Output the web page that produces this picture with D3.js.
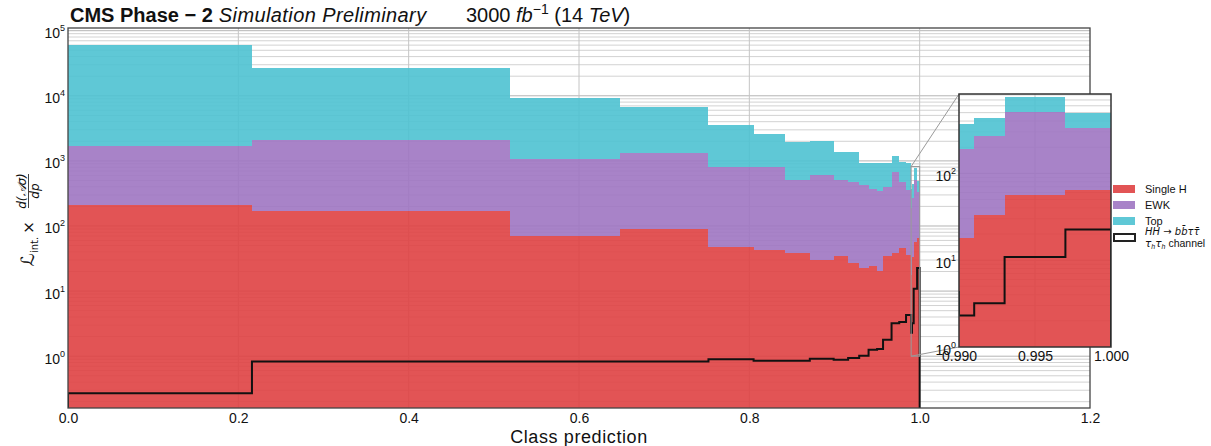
<!DOCTYPE html>
<meta charset="utf-8">
<script src="https://d3js.org/d3.v7.min.js"></script>
<style>
  body { margin: 0; background: #fff; }
  text { font-family: "Liberation Sans", Arial, sans-serif; fill: #111; }
</style>
<div id="chart"></div>
<script>

// histogram bin edges (class prediction)
var binEdges = [0, 0.216, 0.519, 0.648, 0.752, 0.805, 0.842, 0.871, 0.899, 0.916, 0.929,
                0.940, 0.950, 0.957, 0.967, 0.976, 0.984, 0.990, 0.991, 0.993, 0.997, 1.0];

// per-bin yields
var singleH = [211, 172, 71, 90, 47, 43, 38, 30, 34, 27, 22.5, 24.7, 20, 34, 38, 46, 36, 17.8, 33, 56, 65];
var ewk     = [1482, 1922, 996, 1219, 751, 772, 472, 578, 476, 453, 404, 342, 329, 368, 645, 434, 322, 172, 237, 459, 265];
var topBkg  = [58200, 24200, 8050, 5470, 2760, 1770, 1460, 1430, 860, 890, 511, 571, 589, 536, 506, 492, 560, 177, 167, 250, 162];
var signal  = [0.27, 0.83, 0.83, 0.83, 0.9, 0.85, 0.85, 0.91, 0.88, 0.94, 1.02, 1.26, 1.29, 1.79, 3.2, 3.35, 4.3, 2.3, 3.2, 10.9, 22.6];

var xTicks = [0, 0.2, 0.4, 0.6, 0.8, 1.0, 1.2];
var yTicks = [1, 10, 100, 1e3, 1e4, 1e5];
var insetXTicks = [0.990, 0.995, 1.000];
var insetYTicks = [1, 10, 100];
var legendLabels = ["Single H", "EWK", "Top"];
var seriesColors = ["#df4142", "#9e76c2", "#4ec2d1"];

var W = 1211, H = 446;
var plot = {left: 68, right: 1090, top: 28, bottom: 408};
var inset = {left: 959, right: 1111, top: 94, bottom: 347};

var svg = d3.select("#chart").append("svg")
    .attr("width", W).attr("height", H);

var bins = binEdges.slice(0, -1).map(function(e, i) {
  return {x0: e, x1: binEdges[i + 1], h: singleH[i], e: ewk[i], t: topBkg[i], s: signal[i]};
});
var stacked = d3.stack().keys(["h", "e", "t"])(bins);

var x = d3.scaleLinear().domain([0, 1.2]).range([plot.left, plot.right]);
var y = d3.scaleLog().domain([0.16, 1.1e5]).range([plot.bottom, plot.top]);
var xi = d3.scaleLinear().domain([0.99, 1.0]).range([inset.left, inset.right]);
var yi = d3.scaleLog().domain([1, 820]).range([inset.bottom, inset.top]);

var defs = svg.append("defs");
defs.append("clipPath").attr("id", "clipMain").append("rect")
    .attr("x", plot.left).attr("y", plot.top)
    .attr("width", plot.right - plot.left).attr("height", plot.bottom - plot.top);
defs.append("clipPath").attr("id", "clipInset").append("rect")
    .attr("x", inset.left).attr("y", inset.top)
    .attr("width", inset.right - inset.left).attr("height", inset.bottom - inset.top);

// log grid, majors and minors
function logGrid(g, ys, x0, x1) {
  var d = ys.domain(), vals = [];
  for (var n = -1; n <= 5; n++) {
    for (var k = 1; k <= 9; k++) {
      var v = k * Math.pow(10, n);
      if (v >= d[0] && v <= d[1]) vals.push({v: v, major: k == 1});
    }
  }
  g.selectAll("line.h").data(vals).enter().append("line")
      .attr("x1", x0).attr("x2", x1)
      .attr("y1", function(d) { return ys(d.v); })
      .attr("y2", function(d) { return ys(d.v); })
      .attr("stroke", function(d) { return d.major ? "#b4b4b4" : "#d2d2d2"; })
      .attr("stroke-width", 1);
}

function drawHist(g, xs, ys, bottomPx) {
  g.selectAll("g.layer").data(stacked).enter().append("g")
      .attr("fill", function(d, i) { return seriesColors[i]; })
      .attr("fill-opacity", 0.9)
    .selectAll("rect").data(function(d) { return d; }).enter().append("rect")
      .attr("shape-rendering", "crispEdges")
      .attr("x", function(d) { return xs(d.data.x0); })
      .attr("width", function(d) { return xs(d.data.x1) - xs(d.data.x0); })
      .attr("y", function(d) { return ys(d[1]); })
      .attr("height", function(d) { return (d[0] > 0 ? ys(d[0]) : bottomPx) - ys(d[1]); });

  var pts = [[xs(binEdges[0]), bottomPx]];
  bins.forEach(function(b) {
    pts.push([xs(b.x0), ys(b.s)]);
    pts.push([xs(b.x1), ys(b.s)]);
  });
  pts.push([xs(binEdges[binEdges.length - 1]), bottomPx]);
  g.append("path").attr("d", d3.line()(pts))
      .attr("fill", "none").attr("stroke", "#111").attr("stroke-width", 2);
}

// ---- main panel
var main = svg.append("g");
var mainIn = main.append("g").attr("clip-path", "url(#clipMain)");
logGrid(mainIn, y, plot.left, plot.right);
mainIn.selectAll("line.v").data(xTicks.slice(1, -1)).enter().append("line")
    .attr("x1", function(d) { return x(d); }).attr("x2", function(d) { return x(d); })
    .attr("y1", plot.top).attr("y2", plot.bottom)
    .attr("stroke", "#c4c4c4").attr("stroke-width", 1);
drawHist(mainIn, x, y, plot.bottom);

main.append("rect")
    .attr("x", plot.left).attr("y", plot.top)
    .attr("width", plot.right - plot.left).attr("height", plot.bottom - plot.top)
    .attr("fill", "none").attr("stroke", "#444").attr("stroke-width", 1.3);

main.append("g").attr("transform", "translate(0," + plot.bottom + ")")
    .call(d3.axisBottom(x).tickValues(xTicks).tickFormat(d3.format(".1f")).tickSize(0).tickPadding(5))
    .call(function(g) {
      g.select(".domain").remove();
      g.selectAll("text").attr("font-size", 14).attr("font-family", "Liberation Sans").attr("fill", "#111");
    });

function powLabels(g) {
  g.select(".domain").remove();
  g.selectAll("text").each(function(d) {
    var t = d3.select(this).text(null).attr("font-size", 14)
        .attr("font-family", "Liberation Sans").attr("fill", "#111").attr("dy", "0.5em");
    t.append("tspan").text("10");
    t.append("tspan").attr("font-size", 9).attr("dy", -7).text(Math.round(Math.log10(d)));
  });
}
main.append("g").attr("transform", "translate(" + plot.left + ",0)")
    .call(d3.axisLeft(y).tickValues(yTicks).tickSize(0).tickPadding(3))
    .call(powLabels);

// axis titles
svg.append("text").attr("x", (plot.left + plot.right) / 2).attr("y", 443)
    .attr("text-anchor", "middle").attr("font-size", 18).attr("letter-spacing", 0.6)
    .text("Class prediction");

var yl = svg.append("g").attr("transform", "translate(34,220) rotate(-90)");
var yt = yl.append("text").attr("x", -46).attr("y", 0).attr("font-size", 18)
    .style("font-family", "DejaVu Sans");
yt.append("tspan").text("ℒ");
yt.append("tspan").attr("font-size", 10).attr("dy", 4).text("int.");
yt.append("tspan").attr("font-size", 15).attr("dy", -4).attr("dx", 3).text("×");
yl.append("text").attr("x", 29).attr("y", -8).attr("text-anchor", "middle")
    .attr("font-size", 12).attr("font-style", "italic").style("font-family", "DejaVu Sans").text("d(𝒜σ)");
yl.append("line").attr("x1", 12).attr("x2", 46).attr("y1", -5.5).attr("y2", -5.5)
    .attr("stroke", "#111").attr("stroke-width", 0.8);
yl.append("text").attr("x", 29).attr("y", 4.5).attr("text-anchor", "middle")
    .attr("font-size", 12).attr("font-style", "italic").style("font-family", "DejaVu Sans").text("dp");

// title
var tt = svg.append("text").attr("x", 70).attr("y", 22).attr("font-size", 20);
tt.append("tspan").attr("font-weight", "bold").text("CMS Phase − 2");
tt.append("tspan").attr("font-style", "italic").attr("letter-spacing", 0.4).text(" Simulation Preliminary");
var lumi = svg.append("text").attr("x", 466).attr("y", 22).attr("font-size", 20);
lumi.append("tspan").text("3000 ");
lumi.append("tspan").attr("font-style", "italic").text("fb");
lumi.append("tspan").attr("font-size", 14).attr("dy", -8).text("−1");
lumi.append("tspan").attr("dy", 8).text(" (14 ");
lumi.append("tspan").attr("font-style", "italic").text("TeV");
lumi.append("tspan").text(")");

// ---- zoom indicator and connectors
svg.append("rect")
    .attr("x", x(0.99)).attr("y", y(820))
    .attr("width", x(1.0) - x(0.99)).attr("height", y(1) - y(820))
    .attr("fill", "none").attr("stroke", "#9a9a9a").attr("stroke-width", 1);
svg.append("line").attr("x1", x(0.99)).attr("y1", y(820)).attr("x2", inset.left).attr("y2", inset.top)
    .attr("stroke", "#9a9a9a").attr("stroke-width", 1);
svg.append("line").attr("x1", x(0.99)).attr("y1", y(1)).attr("x2", inset.left).attr("y2", inset.bottom)
    .attr("stroke", "#9a9a9a").attr("stroke-width", 1);

// ---- inset
var ins = svg.append("g");
ins.append("rect").attr("x", inset.left).attr("y", inset.top)
    .attr("width", inset.right - inset.left).attr("height", inset.bottom - inset.top)
    .attr("fill", "#fff");
var insIn = ins.append("g").attr("clip-path", "url(#clipInset)");
logGrid(insIn, yi, inset.left, inset.right);
insIn.append("line").attr("x1", xi(0.995)).attr("x2", xi(0.995))
    .attr("y1", inset.top).attr("y2", inset.bottom)
    .attr("stroke", "#c4c4c4").attr("stroke-width", 1);
drawHist(insIn, xi, yi, inset.bottom);
ins.append("rect").attr("x", inset.left).attr("y", inset.top)
    .attr("width", inset.right - inset.left).attr("height", inset.bottom - inset.top)
    .attr("fill", "none").attr("stroke", "#333").attr("stroke-width", 1.5);

ins.append("g").attr("transform", "translate(0," + inset.bottom + ")")
    .call(d3.axisBottom(xi).tickValues(insetXTicks).tickFormat(d3.format(".3f")).tickSize(0).tickPadding(4))
    .call(function(g) {
      g.select(".domain").remove();
      g.selectAll("text").attr("font-size", 14).attr("font-family", "Liberation Sans").attr("fill", "#111");
    });
ins.append("g").attr("transform", "translate(" + inset.left + ",0)")
    .call(d3.axisLeft(yi).tickValues(insetYTicks).tickSize(0).tickPadding(3))
    .call(powLabels);

// ---- legend
var leg = svg.append("g").attr("transform", "translate(1113,185)");
legendLabels.forEach(function(lab, i) {
  leg.append("rect").attr("x", 0).attr("y", i * 16).attr("width", 22).attr("height", 8)
      .attr("fill", seriesColors[i]).attr("fill-opacity", 0.9);
  leg.append("text").attr("x", 32).attr("y", i * 16 + 8).attr("font-size", 11).text(lab);
});
leg.append("rect").attr("x", 1).attr("y", 49).attr("width", 21).attr("height", 7)
    .attr("fill", "#fff").attr("stroke", "#222").attr("stroke-width", 2);
var s1 = leg.append("text").attr("x", 32).attr("y", 50).attr("font-size", 10)
    .style("font-family", "DejaVu Sans").attr("font-style", "italic");
s1.append("tspan").text("HH");
s1.append("tspan").attr("font-style", "normal").text(" → ");
s1.append("tspan").text("bb\u0304ττ\u0304");
var s2 = leg.append("text").attr("x", 32).attr("y", 62).attr("font-size", 10.5);
s2.append("tspan").attr("font-style", "italic").style("font-family", "DejaVu Sans").text("τ");
s2.append("tspan").attr("font-size", 7).attr("dy", 2).attr("font-style", "italic").text("h");
s2.append("tspan").attr("dy", -2).attr("font-style", "italic").style("font-family", "DejaVu Sans").text("τ");
s2.append("tspan").attr("font-size", 7).attr("dy", 2).attr("font-style", "italic").text("h");
s2.append("tspan").attr("dy", -2).text(" channel");

</script>
